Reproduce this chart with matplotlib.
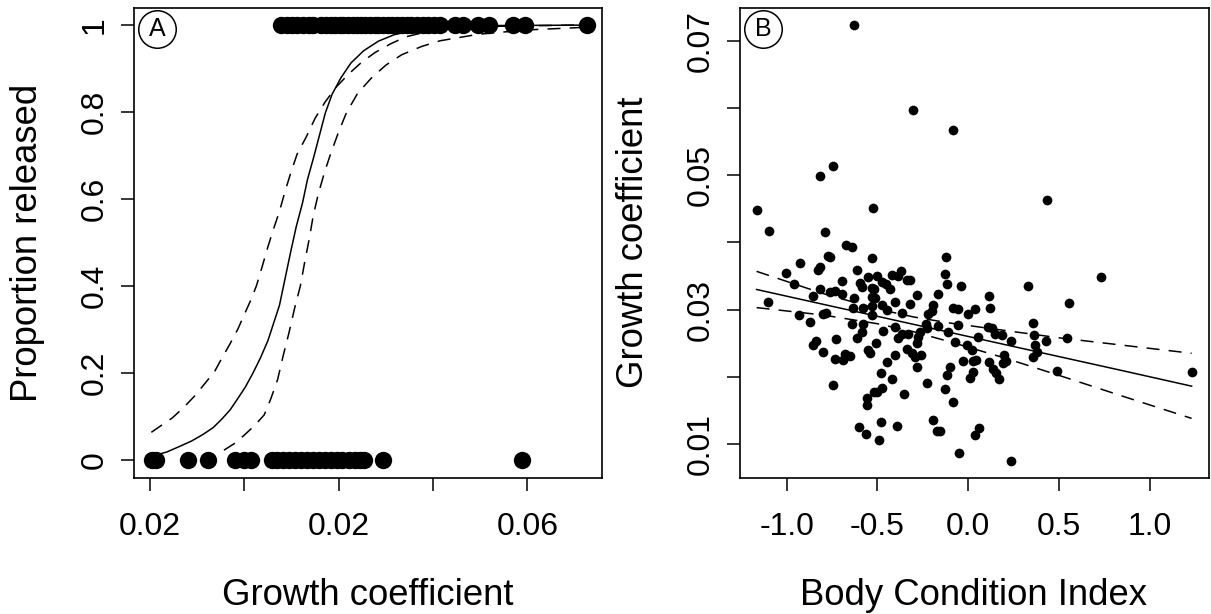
import matplotlib
matplotlib.use("Agg")
import matplotlib.pyplot as plt

plt.rcParams['font.family'] = ['Liberation Sans', 'DejaVu Sans']

# ---- Panel A: released (1) / not released (0) vs growth coefficient ----
released_x = [0.0339, 0.0345, 0.0350, 0.0356, 0.0362, 0.0368, 0.0373, 0.0381,
              0.0387, 0.0392, 0.0396, 0.0401, 0.0405, 0.0410, 0.0415, 0.0419,
              0.0424, 0.0428, 0.0433, 0.0438, 0.0442, 0.0447, 0.0452, 0.0457,
              0.0462, 0.0467, 0.0472, 0.0477, 0.0483, 0.0489, 0.0495, 0.0501,
              0.0507, 0.0523, 0.0532, 0.0548, 0.0559, 0.0585, 0.0598, 0.0663]
retained_x = [0.0202, 0.0206, 0.0240, 0.0261, 0.0290, 0.0300, 0.0307, 0.0329,
              0.0335, 0.0341, 0.0347, 0.0354, 0.0360, 0.0366, 0.0373, 0.0379,
              0.0385, 0.0392, 0.0398, 0.0404, 0.0411, 0.0417, 0.0423, 0.0427,
              0.0447, 0.0594]

# fitted logistic curve and its confidence limits
fit_x = [0.02033, 0.0218, 0.02317, 0.0244, 0.02560, 0.0267, 0.02763, 0.0285,
         0.02925, 0.0301, 0.03088, 0.0317, 0.03250, 0.0331, 0.03372, 0.0343,
         0.03494, 0.0355, 0.03615, 0.0367, 0.03737, 0.0380, 0.03858, 0.0393,
         0.04021, 0.0413, 0.04264, 0.0442, 0.04589, 0.0480, 0.05075, 0.0560, 0.06617]
fit_y = [0.009, 0.018, 0.031, 0.043, 0.058, 0.074, 0.094, 0.115,
         0.139, 0.167, 0.198, 0.234, 0.274, 0.314, 0.355, 0.415,
         0.481, 0.536, 0.589, 0.645, 0.697, 0.749, 0.797, 0.840,
         0.877, 0.912, 0.940, 0.962, 0.977, 0.987, 0.994, 0.998, 0.999]
upr_x = [0.02013, 0.0212, 0.02235, 0.0236, 0.02479, 0.0258, 0.02682, 0.0276,
         0.02844, 0.0293, 0.03006, 0.0307, 0.03128, 0.0319, 0.03250, 0.0331,
         0.03372, 0.0343, 0.03494, 0.0356, 0.03656, 0.0375, 0.03858, 0.0398,
         0.04102, 0.0424, 0.04385, 0.0455, 0.04711, 0.0490, 0.05074, 0.0560, 0.06617]
upr_y = [0.063, 0.079, 0.096, 0.121, 0.148, 0.175, 0.202, 0.233,
         0.265, 0.300, 0.337, 0.368, 0.400, 0.445, 0.490, 0.531,
         0.571, 0.616, 0.661, 0.703, 0.742, 0.785, 0.823, 0.858,
         0.886, 0.913, 0.936, 0.956, 0.972, 0.982, 0.990, 0.996, 0.9995]
lwr_x = [0.02783, 0.0290, 0.03006, 0.0311, 0.03210, 0.0328, 0.03352, 0.0341,
         0.03473, 0.0353, 0.03594, 0.0364, 0.03688, 0.0373, 0.03785, 0.0385,
         0.03919, 0.0400, 0.04081, 0.0420, 0.04345, 0.0450, 0.04669, 0.0488,
         0.05075, 0.05481, 0.0600, 0.06617]
lwr_y = [0.022, 0.038, 0.058, 0.079, 0.103, 0.140, 0.184, 0.238,
         0.292, 0.346, 0.400, 0.455, 0.508, 0.561, 0.612, 0.661,
         0.706, 0.754, 0.797, 0.842, 0.877, 0.907, 0.931, 0.950,
         0.963, 0.978, 0.988, 0.994]

a_xticks = [0.02, 0.03, 0.04, 0.05, 0.06]
a_xticklabels = ['0.02', '', '0.02', '', '0.06']
a_yticks = [0, 0.2, 0.4, 0.6, 0.8, 1]
a_yticklabels = ['0', '0.2', '0.4', '0.6', '0.8', '1']

# ---- Panel B: growth coefficient vs body condition index ----
bci = [-0.630, -0.306, -0.084, -0.743, -0.815, -1.165, -0.523, -1.097, -0.789, 0.435,
       -0.674, -0.638, -0.532, -0.124, -0.774, -0.761, -0.925, -0.816, -0.825, -1.005,
       -0.611, -0.550, -0.504, -0.422, -0.372, -0.389, -0.339, -0.321, -0.477, -0.455,
       -0.959, -0.697, -0.117, -0.042, -0.596, -0.587, -0.532, -0.517, -0.429, -0.816,
       -0.761, -0.734, -0.697, -0.856, -0.532, -0.514, -0.627, -0.168, -0.284, -0.403,
       -0.321, -1.101, -0.477, -0.528, -0.633, -0.578, -0.449, -0.193, -0.201, -0.220,
       -0.083, -0.058, 0.000, -0.363, -0.801, -0.785, -0.932, -0.532, -0.871, -0.642,
       -0.578, -0.403, -0.235, -0.229, -0.266, -0.165, -0.110, -0.055, -0.468, -0.587,
       -0.367, -0.330, -0.389, -0.278, -0.284, -0.614, -0.073, -0.009, 0.022, -0.730,
       -0.840, -0.853, -0.510, -0.339, -0.798, -0.550, -0.541, -0.312, -0.293, -0.260,
       -0.651, -0.679, -0.688, -0.734, -0.403, -0.284, -0.447, -0.028, 0.028, -0.101,
       -0.119, 0.009, -0.482, -0.422, -0.229, -0.743, -0.128, -0.477, -0.504, -0.517,
       -0.352, -0.556, -0.556, -0.083, -0.196, -0.174, -0.156, -0.480, -0.394, -0.600,
       -0.563, -0.491, -0.050, 0.729, 0.327, 0.556, 0.116, 0.119, 0.037, 0.358,
       0.110, 0.129, 0.147, 0.184, 0.055, 0.233, 0.362, 0.367, 0.358, 0.376,
       0.428, 0.545, 0.042, 0.028, 0.114, 0.134, 0.152, 0.171, 0.198, 0.207,
       0.193, 0.490, 1.229, 0.061, 0.037, 0.233, -0.129]
growth = [0.0724, 0.0597, 0.0567, 0.0514, 0.0499, 0.0449, 0.0451, 0.0417, 0.0416, 0.0463,
          0.0397, 0.0394, 0.0377, 0.0378, 0.0380, 0.0379, 0.0370, 0.0364, 0.0359, 0.0355,
          0.0359, 0.0348, 0.0350, 0.0352, 0.0357, 0.0350, 0.0344, 0.0344, 0.0341, 0.0338,
          0.0338, 0.0343, 0.0338, 0.0335, 0.0340, 0.0333, 0.0332, 0.0330, 0.0330, 0.0330,
          0.0326, 0.0328, 0.0324, 0.0320, 0.0319, 0.0317, 0.0317, 0.0324, 0.0322, 0.0312,
          0.0308, 0.0311, 0.0307, 0.0306, 0.0303, 0.0303, 0.0299, 0.0307, 0.0298, 0.0293,
          0.0303, 0.0301, 0.0293, 0.0295, 0.0294, 0.0295, 0.0292, 0.0292, 0.0282, 0.0278,
          0.0278, 0.0274, 0.0279, 0.0272, 0.0267, 0.0276, 0.0266, 0.0277, 0.0268, 0.0267,
          0.0264, 0.0264, 0.0257, 0.0259, 0.0250, 0.0257, 0.0252, 0.0248, 0.0240, 0.0256,
          0.0253, 0.0247, 0.0250, 0.0242, 0.0237, 0.0240, 0.0235, 0.0236, 0.0230, 0.0233,
          0.0231, 0.0234, 0.0225, 0.0226, 0.0232, 0.0215, 0.0222, 0.0223, 0.0223, 0.0215,
          0.0202, 0.0198, 0.0206, 0.0196, 0.0190, 0.0187, 0.0182, 0.0183, 0.0178, 0.0177,
          0.0175, 0.0169, 0.0158, 0.0162, 0.0135, 0.0119, 0.0119, 0.0132, 0.0126, 0.0125,
          0.0114, 0.0106, 0.0087, 0.0348, 0.0335, 0.0310, 0.0320, 0.0303, 0.0301, 0.0280,
          0.0274, 0.0272, 0.0264, 0.0262, 0.0259, 0.0253, 0.0262, 0.0247, 0.0230, 0.0237,
          0.0253, 0.0258, 0.0225, 0.0207, 0.0222, 0.0212, 0.0205, 0.0197, 0.0232, 0.0223,
          0.0220, 0.0208, 0.0207, 0.0124, 0.0113, 0.0075, 0.0353]

# regression line with confidence band
reg_x = [-1.165, -0.8, -0.5, -0.3, -0.1, 0.2, 0.5, 0.85, 1.229]
reg_mid = [0.0330, 0.0308, 0.0290, 0.0278, 0.0266, 0.0248, 0.0230, 0.0209, 0.0186]
reg_hi = [0.0357, 0.0324, 0.0301, 0.0289, 0.0280, 0.0269, 0.0258, 0.0247, 0.0235]
reg_lo = [0.0303, 0.0292, 0.0279, 0.0267, 0.0252, 0.0228, 0.0202, 0.0171, 0.0138]

b_xticks = [-1.0, -0.5, 0.0, 0.5, 1.0]
b_xticklabels = ['-1.0', '-0.5', '0.0', '0.5', '1.0']
b_yticks = [0.01, 0.02, 0.03, 0.04, 0.05, 0.06, 0.07]
b_yticklabels = ['0.01', '', '0.03', '', '0.05', '', '0.07']

TICK_FS = 23
LAB_FS = 26.3
dash = (0, (8.5, 6))

fig = plt.figure(figsize=(12.11, 6.14), dpi=100)
axA = fig.add_axes([0.1107, 0.2215, 0.3864, 0.7655])
axB = fig.add_axes([0.6108, 0.2215, 0.3873, 0.7655])

# Panel A
axA.plot(fit_x, fit_y, color='black', lw=1.1)
axA.plot(upr_x, upr_y, color='black', lw=1.1, ls=dash)
axA.plot(lwr_x, lwr_y, color='black', lw=1.1, ls=dash)
axA.plot(released_x, [1] * len(released_x), 'o', color='black', ms=12.5, mew=0)
axA.plot(retained_x, [0] * len(retained_x), 'o', color='black', ms=12.5, mew=0)
axA.set_xlim(0.0183, 0.06792)
axA.set_ylim(-0.042, 1.0384)
axA.set_xticks(a_xticks)
axA.set_xticklabels(a_xticklabels)
axA.set_yticks(a_yticks)
axA.set_yticklabels(a_yticklabels, rotation=90, va='center')

# Panel B
axB.plot(bci, growth, 'o', color='black', ms=7, mew=0)
axB.plot(reg_x, reg_mid, color='black', lw=1.1)
axB.plot(reg_x, reg_hi, color='black', lw=1.1, ls=dash)
axB.plot(reg_x, reg_lo, color='black', lw=1.1, ls=dash)
axB.set_xlim(-1.258, 1.323)
axB.set_ylim(0.00492, 0.07493)
axB.set_xticks(b_xticks)
axB.set_xticklabels(b_xticklabels)
axB.set_yticks(b_yticks)
axB.set_yticklabels(b_yticklabels, rotation=90, va='center')

for ax, tag in [(axA, 'A'), (axB, 'B')]:
    for s in ax.spines.values():
        s.set_linewidth(1.2)
    ax.tick_params(axis='both', direction='out', length=9.5, width=1.1,
                   labelsize=TICK_FS)
    ax.tick_params(axis='x', pad=15)
    ax.tick_params(axis='y', pad=8)
    ax.plot([0.05], [0.955], 'o', ms=27, mfc='none', mec='black', mew=1.1,
            transform=ax.transAxes, clip_on=False)
    ax.text(0.05, 0.955, tag, transform=ax.transAxes, ha='center', va='center',
            fontsize=18)

fig.text(28 / 1211, 1 - 243 / 614, 'Proportion released', rotation=90,
         ha='center', va='center', fontsize=LAB_FS)
fig.text(368 / 1211, 1 - 605 / 614, 'Growth coefficient', ha='center',
         va='baseline', fontsize=LAB_FS)
fig.text(634 / 1211, 1 - 242 / 614, 'Growth coefficient', rotation=90,
         ha='center', va='center', fontsize=LAB_FS)
fig.text(974 / 1211, 1 - 605 / 614, 'Body Condition Index', ha='center',
         va='baseline', fontsize=LAB_FS)

fig.savefig('out.png', dpi=100)
